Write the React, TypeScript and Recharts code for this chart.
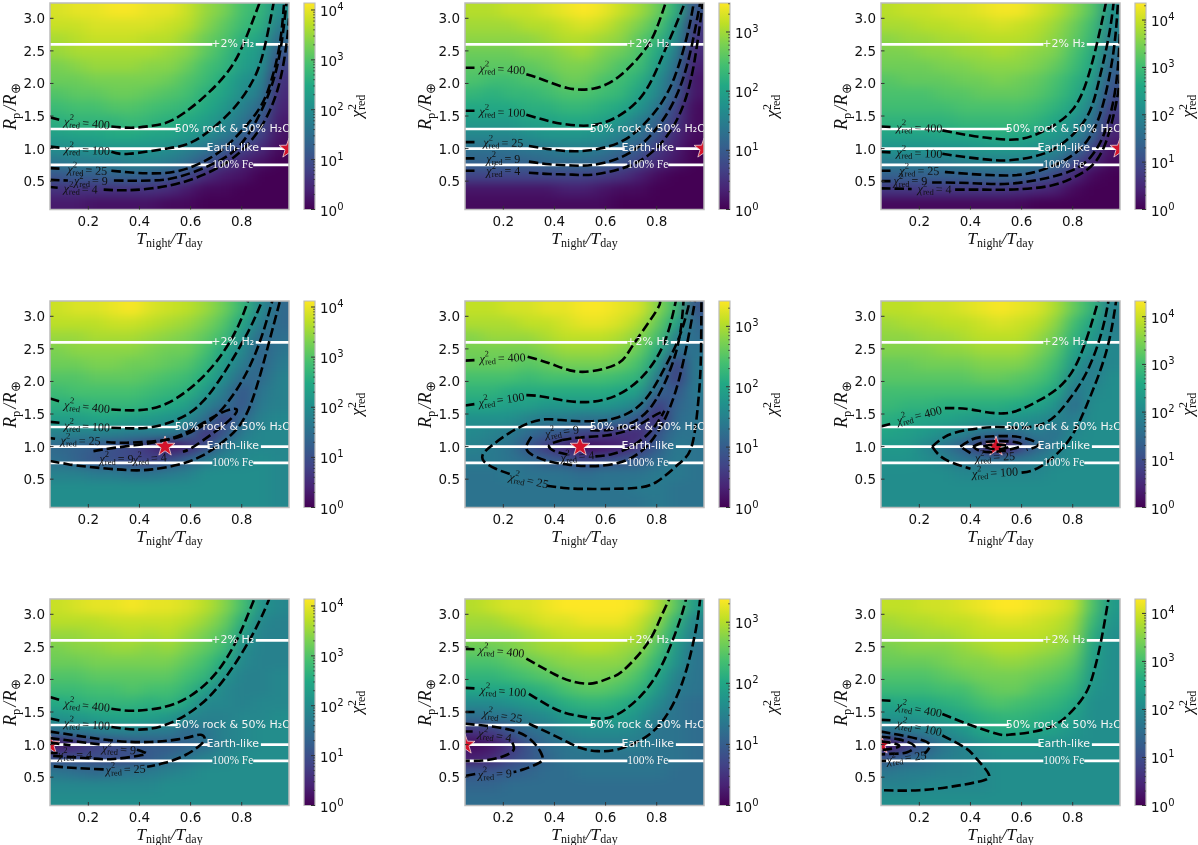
import React from "react";
import { ComposedChart, ScatterChart, Scatter, Line, XAxis, YAxis, ReferenceArea } from "recharts";

type Pt = [number, number];
type Lab = [number, number, string, number];

const COL_X = [0.086, 0.158, 0.23, 0.302, 0.374, 0.446, 0.518, 0.59, 0.662, 0.734, 0.806, 0.878, 0.95];
const ROW_Y = [0.17, 0.38, 0.59, 0.8, 1.01, 1.22, 1.43, 1.65, 1.86, 2.07, 2.28, 2.49, 2.7, 2.91, 3.12];
const X_TICKS = [0.2, 0.4, 0.6, 0.8];
const Y_TICKS = [0.5, 1.0, 1.5, 2.0, 2.5, 3.0];
const X_DOMAIN: Pt = [0.05, 0.985];
const Y_DOMAIN: Pt = [0.065, 3.235];
const LOG_VMAX = [4.14, 3.49, 4.36, 4.12, 3.42, 4.33, 4.14, 3.38, 4.3];
const STAR_X = [0.985, 0.985, 0.985, 0.5, 0.5, 0.5, 0.05, 0.05, 0.05];
const COMPOSITIONS: { y: number; spans: Pt[]; text: string; serif: boolean }[] = [
  { y: 2.6, spans: [[0.05, 0.685], [0.855, 0.985]], text: "+2% H\u2082", serif: false },
  { y: 1.3, spans: [[0.05, 0.55]], text: "50% rock & 50% H\u2082O", serif: false },
  { y: 1.0, spans: [[0.05, 0.675], [0.875, 0.985]], text: "Earth-like", serif: false },
  { y: 0.75, spans: [[0.05, 0.685], [0.845, 0.985]], text: "100% Fe", serif: true },
];

// log10(chi2) x 10, one list per column, bottom row first
const HEAT_1 = [
  [3,6,11,16,20,23,26,28,30,32,33,35,36,38,39],[3,6,12,17,20,24,27,29,31,32,34,36,37,38,40],[2,6,12,17,21,24,27,29,31,33,35,36,38,39,40],
  [2,6,13,17,21,25,27,30,32,33,35,36,38,39,41],[2,6,13,18,21,25,28,30,32,33,35,36,38,39,41],[2,6,12,18,21,24,27,29,31,33,34,36,37,39,40],
  [1,5,11,17,20,24,26,28,30,32,34,35,37,38,40],[1,3,9,15,18,22,25,27,29,30,32,34,35,37,38],[0,1,5,11,16,20,23,25,26,28,29,31,32,34,35],
  [0,1,3,7,12,17,20,22,24,25,27,28,30,31,33],[0,0,2,4,8,13,16,18,20,21,23,24,26,28,29],[0,0,0,2,5,8,11,14,17,19,21,22,24,26,27],[0,0,0,0,1,2,3,4,5,6,8,11,14,17,20],
];
const HEAT_2 = [
  [1,2,7,11,13,16,19,21,23,25,26,27,29,30,31],[1,2,7,11,13,16,19,21,22,24,26,27,29,30,31],[1,2,7,11,13,16,19,21,23,24,26,27,29,30,32],
  [1,2,7,11,14,17,20,22,23,25,26,28,29,31,32],[1,2,7,12,14,18,20,22,24,25,27,28,30,31,33],[1,3,7,12,15,18,21,23,25,27,28,29,31,32,34],
  [1,3,7,12,15,18,21,23,25,27,28,30,31,33,35],[1,2,6,11,14,17,20,22,24,25,27,28,30,32,34],[0,1,5,9,12,15,18,21,23,24,25,27,29,30,32],
  [0,1,3,7,10,13,15,18,20,22,24,25,26,28,30],[0,0,1,4,6,9,11,14,16,17,19,21,23,25,27],[0,0,0,2,3,4,6,7,10,11,13,15,17,19,22],[0,0,0,0,0,1,1,1,2,2,3,4,5,6,9],
];
const HEAT_3 = [
  [1,7,13,18,22,25,28,30,31,32,34,35,36,38,39],[1,7,13,18,22,25,28,30,31,33,34,35,37,38,40],[1,7,13,18,22,25,28,30,31,33,34,36,37,39,40],
  [1,7,13,18,22,26,28,30,32,33,35,36,38,39,41],[1,7,13,19,22,26,29,31,32,34,35,37,38,40,41],[1,7,14,19,23,26,29,31,33,34,36,37,39,40,42],
  [1,7,14,19,23,27,29,31,33,35,36,38,39,41,43],[1,6,14,19,23,26,29,31,33,34,36,37,39,40,43],[0,5,12,18,22,25,28,30,32,33,35,36,38,39,41],
  [0,4,9,16,20,23,26,28,30,31,33,35,36,37,39],[0,1,5,10,16,20,22,25,27,28,30,31,33,34,36],[0,0,1,5,9,14,17,19,22,24,26,27,29,30,32],[0,0,0,1,2,4,6,8,10,12,14,16,18,20,22],
];
const HEAT_4 = [
  [20,20,18,15,14,18,23,26,28,30,32,33,35,37,38],[20,20,18,13,13,18,23,26,29,30,32,34,35,37,39],[20,20,17,11,12,18,24,27,29,31,33,34,36,37,39],
  [20,20,17,10,10,18,24,27,29,31,33,34,36,38,40],[20,20,16,9,9,17,23,27,29,31,32,34,36,38,41],[20,20,16,8,6,17,22,26,28,30,32,33,35,37,39],
  [20,20,17,10,2,17,21,25,27,29,31,32,34,36,38],[20,20,18,13,5,14,19,23,26,28,30,32,33,35,37],[20,20,20,17,10,6,15,18,22,25,27,29,31,33,35],
  [20,20,20,19,16,11,8,15,17,20,22,24,28,30,32],[20,20,20,19,19,17,14,11,11,14,17,19,21,24,27],[20,20,20,20,19,19,18,17,16,14,13,13,14,17,19],[19,19,19,19,19,19,19,18,18,18,17,16,15,14,14],
];
const HEAT_5 = [
  [13,13,13,14,15,16,17,20,22,24,26,27,28,30,31],[13,13,13,14,14,15,17,20,22,24,26,27,29,30,31],[13,13,14,13,13,14,17,19,21,24,26,27,29,30,32],
  [13,13,13,12,9,12,15,19,21,23,25,27,29,31,32],[13,13,13,10,6,10,14,18,21,24,26,28,30,31,33],[13,13,13,9,4,9,14,18,21,24,27,29,31,32,33],
  [13,13,12,7,1,7,13,18,21,24,27,29,31,33,34],[13,13,13,8,2,6,13,18,21,24,27,29,31,33,34],[13,13,13,9,3,5,12,17,20,23,26,28,30,32,33],
  [13,14,13,10,6,4,9,15,19,22,24,26,28,30,32],[14,14,14,12,10,9,4,6,11,14,18,21,24,26,28],[13,13,14,14,14,13,12,11,9,6,6,12,15,20,23],[13,13,13,13,13,13,13,13,14,14,14,13,12,11,9],
];
const HEAT_6 = [
  [21,21,21,22,23,25,27,29,30,32,33,35,36,37,39],[21,21,21,22,23,24,26,28,30,32,33,35,36,38,39],[21,21,21,21,20,23,25,28,30,32,34,35,37,38,40],
  [21,21,21,19,17,21,25,27,30,32,34,36,37,39,40],[21,21,20,17,13,19,24,27,30,32,34,36,38,39,41],[21,21,20,16,7,16,23,27,30,33,35,37,39,40,42],
  [21,21,20,16,1,15,23,27,30,33,35,37,39,41,43],[21,21,20,17,8,15,22,26,30,32,35,37,39,40,42],[21,21,20,18,14,18,21,25,28,31,33,35,37,39,41],
  [21,21,21,20,18,16,19,22,26,28,30,32,34,36,38],[21,21,21,21,21,20,18,15,17,20,23,25,28,30,33],[21,21,21,21,21,21,21,21,20,18,18,21,23,25,28],[21,21,21,21,21,21,21,21,21,21,20,20,19,18,19],
];
const HEAT_7 = [
  [20,19,16,10,3,15,21,25,28,30,32,33,35,37,38],[20,19,15,10,5,16,22,26,28,30,32,34,35,37,39],[20,19,14,10,8,17,23,27,29,31,33,34,36,37,40],
  [20,19,15,10,9,18,24,27,29,31,33,35,36,38,40],[20,19,16,10,11,18,24,27,30,31,33,35,37,38,41],[20,19,17,12,12,17,23,26,29,31,33,34,36,38,40],
  [20,20,18,14,12,17,22,27,29,31,33,35,37,38,40],[20,20,19,16,13,14,19,24,27,29,31,33,35,37,39],[20,20,20,18,15,16,18,19,23,27,29,31,33,35,37],
  [20,20,20,19,18,18,18,19,19,21,25,28,30,32,34],[20,20,20,20,19,19,19,18,18,18,19,20,23,26,29],[20,20,20,20,20,20,19,19,18,18,18,18,18,19,21],[20,20,20,20,20,20,20,19,19,19,18,18,18,18,19],
];
const HEAT_8 = [
  [12,11,9,3,1,5,12,16,20,22,24,26,28,29,30],[12,11,9,4,2,6,13,16,20,22,24,26,28,29,31],[12,12,10,7,5,9,13,17,20,23,25,27,28,30,32],
  [12,12,11,9,9,12,15,18,21,24,26,28,29,31,32],[12,12,12,11,12,13,16,19,22,25,27,29,30,32,33],[12,12,12,13,13,15,18,21,24,26,28,29,31,32,34],
  [12,12,13,13,14,16,19,22,25,27,28,30,31,33,34],[12,12,13,13,14,16,19,22,25,27,28,30,31,33,34],[12,12,13,13,14,16,19,21,24,26,28,29,31,33,34],
  [12,12,13,13,14,15,17,19,22,24,26,28,30,31,33],[12,12,13,13,13,13,14,16,18,20,22,24,26,28,30],[12,12,12,13,13,13,13,13,14,15,17,18,20,22,25],[12,12,12,12,12,12,12,12,13,13,13,13,14,15,18],
];
const HEAT_9 = [
  [21,19,17,12,3,16,22,25,29,31,33,34,36,37,39],[21,19,18,14,7,17,22,26,29,31,33,35,36,38,39],[21,20,18,16,13,18,23,26,29,31,33,35,37,38,40],
  [21,20,19,18,17,20,24,27,30,32,34,35,37,39,40],[21,20,19,19,19,22,25,28,30,33,35,36,38,39,41],[21,20,20,20,21,25,27,30,32,34,35,37,39,40,42],
  [21,21,21,21,22,26,28,31,33,34,36,38,39,41,43],[21,21,21,21,22,26,28,30,33,34,36,38,39,41,43],[21,21,21,21,22,25,27,29,31,33,35,37,39,40,42],
  [21,21,21,21,21,24,26,28,30,32,34,36,38,39,41],[21,21,21,21,21,22,24,26,28,30,32,34,36,37,39],[21,21,21,21,21,21,21,21,22,23,24,25,27,29,31],[21,21,21,21,21,21,21,21,21,21,21,21,21,22,23],
];
const HEATS = [HEAT_1, HEAT_2, HEAT_3, HEAT_4, HEAT_5, HEAT_6, HEAT_7, HEAT_8, HEAT_9];

const CONTOUR_1: Pt[][] = [
  [[0.05,1.48],[0.1,1.43]],[[0.29,1.34],[0.37,1.32],[0.45,1.35],[0.53,1.44],[0.637,1.74],[0.74,2.15],[0.806,2.6],[0.87,3.24]],
  [[0.05,1.03],[0.1,1.01]],[[0.29,0.95],[0.36,0.92],[0.505,1.0],[0.62,1.13],[0.75,1.54],[0.83,1.95],[0.88,2.41],[0.925,3.24]],
  [[0.05,0.7],[0.1,0.69]],[[0.29,0.66],[0.38,0.63],[0.45,0.62],[0.557,0.66],[0.674,0.85],[0.765,1.13],[0.856,1.54],[0.908,1.95],[0.947,2.56],[0.966,3.24]],
  [[0.05,0.52],[0.12,0.51]],[[0.3,0.51],[0.45,0.51],[0.557,0.57],[0.674,0.74],[0.78,1.0],[0.86,1.45],[0.92,2.0],[0.955,2.6],[0.975,3.24]],
  [[0.05,0.41],[0.08,0.4]],[[0.26,0.37],[0.35,0.36],[0.45,0.39],[0.557,0.47],[0.674,0.64],[0.78,0.9],[0.87,1.3],[0.94,1.9],[0.975,2.6],[0.985,3.0]],
];
const CONTOUR_2: Pt[][] = [
  [[0.05,2.24],[0.1,2.24]],[[0.29,2.14],[0.36,2.05],[0.45,1.93],[0.55,1.92],[0.65,2.1],[0.75,2.5],[0.8,2.85],[0.835,3.24]],
  [[0.05,1.58],[0.1,1.58]],[[0.29,1.52],[0.37,1.43],[0.45,1.37],[0.55,1.36],[0.65,1.5],[0.75,1.85],[0.82,2.4],[0.87,2.85],[0.91,3.24]],
  [[0.05,1.1],[0.1,1.1]],[[0.3,1.04],[0.4,0.98],[0.5,0.96],[0.6,1.02],[0.7,1.2],[0.8,1.6],[0.87,2.1],[0.92,2.75],[0.945,3.24]],
  [[0.05,0.85],[0.1,0.85]],[[0.3,0.8],[0.38,0.76],[0.47,0.74],[0.55,0.75],[0.65,0.85],[0.75,1.1],[0.85,1.6],[0.92,2.3],[0.97,3.24]],
  [[0.05,0.66],[0.1,0.66]],[[0.3,0.63],[0.38,0.61],[0.47,0.6],[0.55,0.6],[0.65,0.68],[0.75,0.85],[0.85,1.25],[0.93,2.0],[0.98,3.24]],
];
const CONTOUR_3: Pt[][] = [
  [[0.05,1.34],[0.1,1.33]],[[0.29,1.28],[0.4,1.2],[0.5,1.15],[0.6,1.15],[0.7,1.3],[0.8,1.6],[0.86,2.1],[0.9,2.7],[0.93,3.24]],
  [[0.05,0.95],[0.1,0.94]],[[0.29,0.92],[0.38,0.87],[0.47,0.83],[0.55,0.82],[0.65,0.88],[0.75,1.05],[0.85,1.45],[0.9,2.0],[0.94,2.7],[0.96,3.24]],
  [[0.05,0.66],[0.1,0.66]],[[0.3,0.64],[0.4,0.61],[0.5,0.59],[0.6,0.6],[0.7,0.7],[0.8,0.9],[0.87,1.2],[0.92,1.7],[0.96,2.5],[0.977,3.24]],
  [[0.05,0.5],[0.09,0.5]],[[0.25,0.48],[0.4,0.47],[0.55,0.46],[0.7,0.55],[0.8,0.67],[0.87,0.87],[0.93,1.3],[0.97,2.0],[0.985,2.8]],
  [[0.05,0.39],[0.17,0.38]],[[0.34,0.37],[0.45,0.37],[0.55,0.37],[0.7,0.42],[0.8,0.55],[0.87,0.72],[0.93,1.1],[0.975,1.8],[0.985,2.2]],
];
const CONTOUR_4: Pt[][] = [
  [[0.05,1.74],[0.1,1.68]],[[0.29,1.57],[0.4,1.56],[0.5,1.65],[0.6,1.9],[0.7,2.3],[0.78,2.8],[0.825,3.24]],
  [[0.05,1.38],[0.1,1.36]],[[0.29,1.29],[0.37,1.28],[0.45,1.3],[0.55,1.42],[0.65,1.7],[0.75,2.25],[0.83,2.8],[0.88,3.24]],
  [[0.05,1.13],[0.07,1.12]],[[0.27,1.07],[0.35,1.06],[0.5,1.1],[0.6,1.22],[0.7,1.48],[0.8,2.0],[0.87,2.6],[0.92,3.24]],
  [[0.05,0.78],[0.12,0.73],[0.2,0.69],[0.35,0.64],[0.45,0.65],[0.55,0.72],[0.65,0.87],[0.75,1.15],[0.83,1.6],[0.9,2.5],[0.95,3.24]],
  [[0.22,0.93],[0.3,0.98],[0.4,1.03],[0.5,1.1],[0.6,1.25],[0.7,1.48],[0.77,1.58],[0.775,1.5],[0.72,1.3],[0.65,1.1],[0.6,0.97],[0.57,0.92]],
];
const CONTOUR_5: Pt[][] = [
  [[0.05,2.32],[0.1,2.33]],[[0.295,2.38],[0.38,2.28],[0.46,2.17],[0.55,2.16],[0.65,2.28],[0.706,2.55],[0.798,3.08],[0.81,3.24]],
  [[0.05,1.63],[0.1,1.66]],[[0.29,1.79],[0.35,1.77],[0.45,1.7],[0.55,1.69],[0.65,1.8],[0.75,2.1],[0.83,2.6],[0.875,3.24]],
  [[0.225,0.58],[0.17,0.66],[0.125,0.77],[0.12,0.88],[0.15,1.0],[0.22,1.2],[0.3,1.36],[0.37,1.42],[0.45,1.4],[0.55,1.39],[0.65,1.45],[0.75,1.7],[0.83,2.2],[0.89,2.7],[0.93,3.24]],
  [[0.37,0.4],[0.45,0.36],[0.55,0.35],[0.7,0.36],[0.8,0.46],[0.888,0.74],[0.94,1.05],[0.965,1.8],[0.973,2.4],[0.975,3.24]],
  [[0.31,1.15],[0.29,1.0],[0.31,0.88],[0.38,0.77],[0.46,0.72],[0.55,0.7],[0.65,0.75],[0.73,0.9],[0.8,1.2],[0.87,1.8],[0.92,2.6],[0.95,3.24]],
  [[0.54,1.25],[0.62,1.26],[0.7,1.36],[0.78,1.62],[0.85,2.15],[0.89,2.7],[0.905,3.24]],
  [[0.43,1.1],[0.38,1.02],[0.4,0.93],[0.45,0.88]],[[0.56,0.85],[0.62,0.88],[0.7,1.0],[0.78,1.25],[0.83,1.55]],[[0.43,1.1],[0.5,1.14],[0.6,1.17],[0.7,1.27],[0.78,1.45],[0.83,1.55]],
];
const CONTOUR_6: Pt[][] = [
  [[0.05,1.31],[0.1,1.36]],[[0.3,1.59],[0.4,1.57],[0.53,1.51],[0.65,1.67],[0.776,2.03],[0.853,2.64],[0.9,3.24]],
  [[0.25,1.0],[0.3,1.15],[0.38,1.25],[0.5,1.3],[0.6,1.29],[0.7,1.38],[0.776,1.67],[0.853,2.13],[0.912,2.74],[0.94,3.24]],
  [[0.25,1.0],[0.28,0.86],[0.33,0.75],[0.4,0.66]],[[0.6,0.6],[0.672,0.69],[0.776,1.05],[0.853,1.62],[0.93,2.44],[0.97,3.24]],
  [[0.36,1.0],[0.4,1.1],[0.45,1.15],[0.55,1.16],[0.62,1.12],[0.665,1.03],[0.62,0.95]],[[0.4,0.9],[0.36,1.0]],
  [[0.41,1.0],[0.46,1.07],[0.55,1.08],[0.6,1.03],[0.57,0.97],[0.5,0.92],[0.44,0.93],[0.41,1.0]],
  [[0.45,1.0],[0.5,1.03],[0.55,1.0],[0.5,0.96],[0.45,1.0]],
];
const CONTOUR_7: Pt[][] = [
  [[0.05,1.73],[0.1,1.67]],[[0.29,1.55],[0.38,1.52],[0.5,1.58],[0.6,1.75],[0.7,2.1],[0.78,2.6],[0.825,3.0],[0.85,3.24]],
  [[0.05,1.4],[0.1,1.36]],[[0.29,1.27],[0.4,1.23],[0.5,1.3],[0.6,1.5],[0.7,1.85],[0.8,2.4],[0.87,2.9],[0.908,3.24]],
  [[0.05,1.2],[0.15,1.14],[0.3,1.06],[0.44,1.04],[0.55,1.08],[0.61,1.13],[0.64,1.15],[0.655,1.1],[0.64,1.0],[0.58,0.84],[0.5,0.72],[0.43,0.66]],[[0.26,0.62],[0.15,0.64],[0.05,0.67]],
  [[0.05,1.1],[0.15,1.05],[0.25,1.0]],[[0.39,0.92],[0.42,0.88],[0.41,0.84],[0.3,0.78],[0.2,0.79],[0.05,0.83]],
  [[0.05,1.03],[0.13,0.99]],[[0.05,0.87],[0.08,0.87]],
];
const CONTOUR_8: Pt[][] = [
  [[0.05,2.47],[0.1,2.46]],[[0.29,2.32],[0.4,2.08],[0.47,1.97],[0.55,1.94],[0.62,2.03],[0.667,2.13],[0.758,2.52],[0.81,2.9],[0.85,3.24]],
  [[0.05,1.87],[0.1,1.86]],[[0.3,1.78],[0.4,1.55],[0.48,1.45],[0.57,1.4],[0.65,1.47],[0.75,1.8],[0.83,2.3],[0.89,2.9],[0.915,3.24]],
  [[0.05,1.5],[0.1,1.5]],[[0.3,1.32],[0.42,1.1],[0.5,0.95],[0.57,0.9],[0.65,0.93],[0.75,1.1],[0.83,1.4],[0.9,1.95],[0.95,2.7],[0.97,3.24]],
  [[0.05,1.32],[0.2,1.25],[0.3,1.1],[0.35,0.85],[0.34,0.72],[0.28,0.62],[0.24,0.58]],[[0.09,0.55],[0.05,0.52]],
  [[0.05,1.2],[0.08,1.2]],[[0.235,1.03],[0.24,0.92],[0.2,0.82],[0.13,0.76],[0.05,0.75]],
];
const CONTOUR_9: Pt[][] = [
  [[0.05,1.68],[0.1,1.67]],[[0.29,1.47],[0.4,1.3],[0.5,1.17],[0.55,1.15],[0.65,1.2],[0.75,1.35],[0.84,1.72],[0.88,2.08],[0.91,2.57],[0.94,3.24]],
  [[0.05,1.38],[0.1,1.37]],[[0.29,1.14],[0.38,0.95],[0.42,0.8],[0.47,0.56],[0.45,0.45],[0.35,0.37],[0.2,0.3],[0.05,0.3]],
  [[0.05,1.2],[0.12,1.15],[0.2,1.08],[0.24,1.0],[0.23,0.9],[0.22,0.86]],[[0.05,0.75],[0.07,0.75]],
  [[0.05,1.12],[0.12,1.08],[0.18,0.98],[0.15,0.88],[0.1,0.86],[0.05,0.85]],
  [[0.05,1.05],[0.1,1.02],[0.12,0.97],[0.08,0.93],[0.05,0.92]],
];
const CONTOURS = [CONTOUR_1, CONTOUR_2, CONTOUR_3, CONTOUR_4, CONTOUR_5, CONTOUR_6, CONTOUR_7, CONTOUR_8, CONTOUR_9];

// x, y, chi2 level, rotation
const LABELS_1: Lab[] = [[0.195,1.39,"400",5],[0.195,0.98,"100",3],[0.196,0.67,"25",3],[0.21,0.5,"9",0],[0.17,0.38,"4",2]];
const LABELS_2: Lab[] = [[0.196,2.22,"400",3],[0.196,1.56,"100",2],[0.2,1.09,"25",1],[0.2,0.84,"9",0],[0.2,0.65,"4",0]];
const LABELS_3: Lab[] = [[0.2,1.32,"400",2],[0.2,0.93,"100",2],[0.2,0.66,"25",1],[0.165,0.5,"9",0],[0.26,0.38,"4",1]];
const LABELS_4: Lab[] = [[0.195,1.61,"400",6],[0.195,1.31,"100",3],[0.17,1.09,"25",1],[0.31,0.81,"9",0],[0.44,0.82,"4",-4]];
const LABELS_5: Lab[] = [[0.197,2.36,"400",-2],[0.193,1.72,"100",-8],[0.3,0.48,"25",12],[0.43,1.23,"9",-8],[0.49,0.85,"4",-5]];
const LABELS_6: Lab[] = [[0.2,1.48,"400",-14],[0.496,0.6,"100",-3],[0.496,0.84,"25",-3]];
const LABELS_7: Lab[] = [[0.195,1.6,"400",6],[0.195,1.31,"100",4],[0.346,0.62,"25",-2],[0.32,0.93,"9",4],[0.148,0.84,"4",0]];
const LABELS_8: Lab[] = [[0.193,2.43,"400",5],[0.2,1.82,"100",4],[0.197,1.44,"25",9],[0.167,0.55,"9",-2],[0.167,1.14,"4",9]];
const LABELS_9: Lab[] = [[0.2,1.54,"400",10],[0.2,1.26,"100",12],[0.15,0.8,"25",-8]];
const LABELS = [LABELS_1, LABELS_2, LABELS_3, LABELS_4, LABELS_5, LABELS_6, LABELS_7, LABELS_8, LABELS_9];

const PLOT_LEFT = [50, 465, 880.5];
const PLOT_TOP = [3, 301, 598.5];
const PLOT_W = 239;
const PLOT_H = 206.5;
const CB_GAP = 254;
const CB_W = 11;
const PAD = 30;
const SANS = "'DejaVu Sans', sans-serif";
const SERIF = "'Liberation Serif', serif";
const VIRIDIS = ["#440154","#482475","#414487","#355f8d","#2a788e","#21918c","#22a884","#44bf70","#7ad151","#bddf26","#fde725"];

function viridis(t: number) {
  const c = Math.max(0, Math.min(1, t)) * 10;
  const i = Math.min(9, Math.floor(c));
  const f = c - i;
  const h = (s: string, k: number) => parseInt(s.slice(k, k + 2), 16);
  const mix = (k: number) => Math.round(h(VIRIDIS[i], k) * (1 - f) + h(VIRIDIS[i + 1], k) * f);
  return `rgb(${mix(1)},${mix(3)},${mix(5)})`;
}

function HeatLayer({ index, left, top }: { index: number; left: number; top: number }) {
  const cells = HEATS[index].flatMap((col, c) => col.map((v, r) => ({ x: COL_X[c], y: ROW_Y[r], v, c, r })));
  const cw = 20;
  const ch = 15.5;
  const shape = (p: any) => {
    const d = p.payload;
    const l = d.c === 0 ? PAD + cw : cw / 2;
    const rr = d.c === COL_X.length - 1 ? PAD + cw : cw / 2;
    const b = d.r === 0 ? PAD + ch : ch / 2;
    const t = d.r === ROW_Y.length - 1 ? PAD + ch : ch / 2;
    return <rect x={p.cx - l} y={p.cy - t} width={l + rr} height={t + b} fill={viridis(d.v / 10 / LOG_VMAX[index])} />;
  };
  return (
    <div style={{ position: "absolute", left, top, width: PLOT_W, height: PLOT_H, overflow: "hidden" }}>
      <div style={{ position: "absolute", left: -PAD, top: -PAD, filter: "url(#heatBlur)" }}>
        <ScatterChart width={PLOT_W + 2 * PAD} height={PLOT_H + 2 * PAD} margin={{ top: PAD, left: PAD, right: PAD, bottom: PAD }}>
          <XAxis type="number" dataKey="x" domain={X_DOMAIN} hide />
          <YAxis type="number" dataKey="y" domain={Y_DOMAIN} hide />
          <Scatter data={cells} shape={shape} isAnimationActive={false} legendType="none" />
        </ScatterChart>
      </div>
    </div>
  );
}

function ChiLabel({ x, y, level, rot }: { x: number; y: number; level: string; rot: number }) {
  return (
    <text x={x} y={y} textAnchor="middle" dominantBaseline="central" transform={`rotate(${rot} ${x} ${y})`} fontFamily={SERIF} fontSize={12} fill="#111">
      <tspan fontStyle="italic">{"\u03C7"}</tspan>
      <tspan dy={-5} fontSize={8.5}>2</tspan>
      <tspan dx={-4.2} dy={8} fontSize={8.5}>red</tspan>
      <tspan dy={-3} dx={2}>{`= ${level}`}</tspan>
    </text>
  );
}

function Panel({ index }: { index: number }) {
  const left = PLOT_LEFT[index % 3];
  const top = PLOT_TOP[Math.floor(index / 3)];
  const ox = left - 50;
  const oy = top - 10;
  const contourData = CONTOURS[index].map((seg) => seg.map(([x, y]) => ({ x, y })));
  const labelData = LABELS[index].map(([x, y, level, rot]) => ({ x, y, level, rot }));
  const compLabels = COMPOSITIONS.map((c) => ({ x: 0.765, y: c.y + 0.01, text: c.text, serif: c.serif }));
  const xTick = (p: any) => (
    <g>
      <line x1={p.x} x2={p.x} y1={p.y} y2={p.y - 3.5} stroke="#333" strokeWidth={1} />
      <text x={p.x} y={p.y + 16} textAnchor="middle" fontFamily={SANS} fontSize={13.5} fill="#111">{p.payload.value.toFixed(1)}</text>
    </g>
  );
  const yTick = (p: any) => (
    <g>
      <line x1={p.x} x2={p.x + 3.5} y1={p.y} y2={p.y} stroke="#333" strokeWidth={1} />
      <text x={p.x - 5} y={p.y + 5} textAnchor="end" fontFamily={SANS} fontSize={13.5} fill="#111">{p.payload.value.toFixed(1)}</text>
    </g>
  );
  const labelShape = (p: any) => <ChiLabel x={p.cx} y={p.cy} level={p.payload.level} rot={p.payload.rot} />;
  const compShape = (p: any) => (
    <text x={p.cx} y={p.cy} textAnchor="middle" dominantBaseline="central" fill="#f4f4f4" fontFamily={p.payload.serif ? SERIF : SANS} fontSize={p.payload.serif ? 11.5 : 11}>{p.payload.text}</text>
  );
  const starShape = (p: any) => {
    const pts: string[] = [];
    for (let i = 0; i < 10; i++) {
      const r = i % 2 === 0 ? 10.5 : 4.2;
      const a = -Math.PI / 2 + (i * Math.PI) / 5;
      pts.push(`${p.cx + r * Math.cos(a)},${p.cy + r * Math.sin(a)}`);
    }
    return <polygon points={pts.join(" ")} fill="#d5142b" stroke="#f0d8d8" strokeWidth={0.8} />;
  };
  return (
    <>
      <HeatLayer index={index} left={left} top={top} />
      <div style={{ position: "absolute", left: ox, top: oy }}>
        <ComposedChart width={50 + PLOT_W + 6} height={10 + PLOT_H + 48} margin={{ top: 10, left: 0, right: 6, bottom: 10 }}>
          <XAxis type="number" dataKey="x" domain={X_DOMAIN} ticks={X_TICKS} allowDataOverflow height={38} tickLine={false} axisLine={false} tickSize={0} tickMargin={0} tick={xTick} interval={0} />
          <YAxis type="number" dataKey="y" domain={Y_DOMAIN} ticks={Y_TICKS} allowDataOverflow width={50} tickLine={false} axisLine={false} tickSize={0} tickMargin={0} tick={yTick} interval={0} />
          {COMPOSITIONS.flatMap((c, i) =>
            c.spans.map((s, j) => (
              <Line key={`w${i}${j}`} data={[{ x: s[0], y: c.y }, { x: s[1], y: c.y }]} dataKey="y" type="linear" stroke="#ffffff" strokeWidth={2.6} dot={false} activeDot={false} isAnimationActive={false} legendType="none" zIndex={410} />
            ))
          )}
          <Scatter data={[{ x: STAR_X[index], y: 1.0 }]} shape={starShape} isAnimationActive={false} legendType="none" zIndex={420} />
          {contourData.map((seg, i) => (
            <Line key={`c${i}`} data={seg} dataKey="y" type="natural" stroke="#000000" strokeWidth={2.6} strokeDasharray="9.5 4" dot={false} activeDot={false} isAnimationActive={false} legendType="none" zIndex={430} />
          ))}
          <Scatter data={labelData} shape={labelShape} isAnimationActive={false} legendType="none" zIndex={440} />
          <Scatter data={compLabels} shape={compShape} isAnimationActive={false} legendType="none" zIndex={440} />
          <ReferenceArea x1={X_DOMAIN[0]} x2={X_DOMAIN[1]} y1={Y_DOMAIN[0]} y2={Y_DOMAIN[1]} fill="none" stroke="#bcbcbc" strokeWidth={1.5} zIndex={450} />
          <text x={50 + PLOT_W / 2} y={10 + PLOT_H + 34} textAnchor="middle" fontFamily={SERIF} fontSize={17.5} fill="#111">
            <tspan fontStyle="italic">T</tspan>
            <tspan fontSize={12} dy={3}>night</tspan>
            <tspan dy={-3} fontStyle="italic">/T</tspan>
            <tspan fontSize={12} dy={3}>day</tspan>
          </text>
          <text transform={`translate(16 ${10 + PLOT_H / 2}) rotate(-90)`} textAnchor="middle" fontFamily={SERIF} fontSize={18} fill="#111">
            <tspan fontStyle="italic">R</tspan>
            <tspan fontSize={12.5} dy={4}>p</tspan>
            <tspan dy={-4} dx={2} fontStyle="italic">/R</tspan>
            <tspan fontSize={13} dy={4} dx={1}>{"\u2295"}</tspan>
          </text>
        </ComposedChart>
      </div>
      <ColorBar index={index} left={left + CB_GAP} top={top} />
    </>
  );
}

function ColorBar({ index, left, top }: { index: number; left: number; top: number }) {
  const logMax = LOG_VMAX[index];
  const vmax = Math.pow(10, logMax);
  const ticks: number[] = [];
  for (let d = 0; d <= 4; d++) for (const m of [1, 2, 3, 4, 5, 6, 7, 8, 9]) if (m * 10 ** d <= vmax) ticks.push(m * 10 ** d);
  const id = `cb${index}`;
  const tick = (p: any) => {
    const v = p.payload.value;
    const lg = Math.log10(v);
    const major = Math.abs(lg - Math.round(lg)) < 1e-9;
    return (
      <g>
        <line x1={p.x - (major ? 4 : 2)} x2={p.x} y1={p.y} y2={p.y} stroke="#333" strokeWidth={major ? 1 : 0.7} />
        {major && (
          <text x={p.x + 5} y={p.y + 6} fontFamily={SANS} fontSize={13.5} fill="#111">
            10<tspan fontSize={10} dy={-6}>{Math.round(lg)}</tspan>
          </text>
        )}
      </g>
    );
  };
  return (
    <div style={{ position: "absolute", left: left - 1, top: top - 10 }}>
      <ComposedChart width={75} height={PLOT_H + 20} margin={{ top: 10, left: 1, right: 62, bottom: 10 }} data={[{ x: 0, y: 1 }, { x: 1, y: vmax }]}>
        <defs>
          <linearGradient id={id} x1="0" y1="1" x2="0" y2="0">
            {VIRIDIS.map((c, i) => <stop key={i} offset={i / 10} stopColor={c} />)}
          </linearGradient>
        </defs>
        <XAxis type="number" dataKey="x" domain={[0, 1]} hide />
        <YAxis type="number" dataKey="y" orientation="right" scale="log" domain={[1, vmax]} ticks={ticks} interval={0} width={1} allowDataOverflow tickLine={false} axisLine={false} tickSize={0} tickMargin={0} tick={tick} />
        <ReferenceArea x1={0} x2={1} y1={1} y2={vmax} fill={`url(#${id})`} fillOpacity={1} stroke="#bcbcbc" strokeWidth={1.2} />
        <text transform={`translate(${CB_W + 47.5} ${10 + PLOT_H / 2}) rotate(-90)`} textAnchor="middle" fontFamily={SERIF} fontSize={17.5} fill="#111">
          <tspan fontStyle="italic">{"\u03C7"}</tspan>
          <tspan fontSize={12} dy={-6}>2</tspan>
          <tspan fontSize={12} dx={-6} dy={9}>red</tspan>
        </text>
      </ComposedChart>
    </div>
  );
}

export default function App() {
  return (
    <div style={{ position: "absolute", left: 0, top: 0, width: 1198, height: 845, overflow: "hidden", background: "#fff", filter: "blur(0.3px)" }}>
      <svg width={0} height={0} style={{ position: "absolute" }}>
        <filter id="heatBlur" x="0" y="0" width="100%" height="100%" colorInterpolationFilters="sRGB">
          <feGaussianBlur stdDeviation="8 5" edgeMode="duplicate" />
        </filter>
      </svg>
      {[0, 1, 2, 3, 4, 5, 6, 7, 8].map((i) => <Panel key={i} index={i} />)}
    </div>
  );
}
